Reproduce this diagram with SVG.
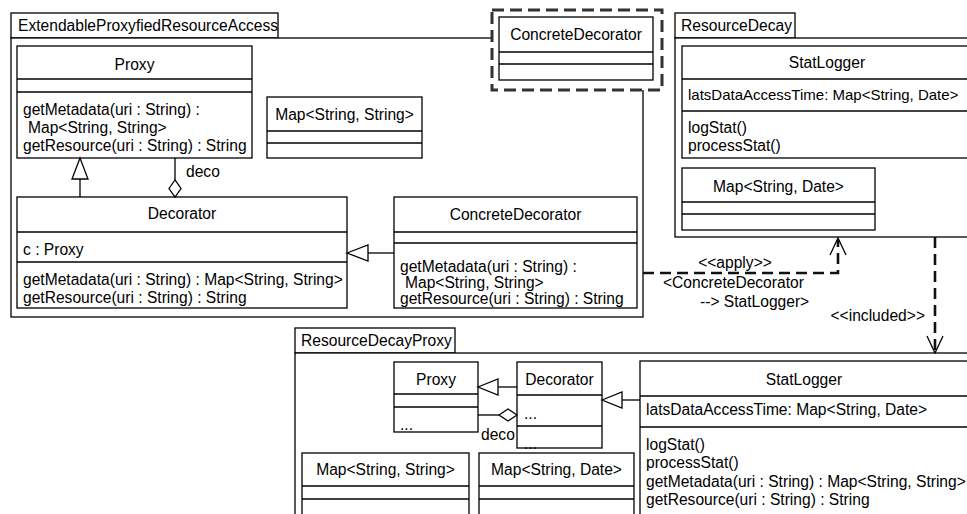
<svg xmlns="http://www.w3.org/2000/svg" width="967" height="514" viewBox="0 0 967 514">
<style>
text{font-family:"Liberation Sans",Arial,sans-serif;font-size:15.6px;fill:#000}
.c{text-anchor:middle}
.e{text-anchor:end}
.b{fill:#fff;stroke:#000;stroke-width:1.3}
.l{stroke:#000;stroke-width:1.3;fill:none}
.d{stroke:#111;stroke-width:2.6;fill:none;stroke-dasharray:11 6}
.tri{fill:#fff;stroke:#000;stroke-width:1.3}
</style>
<rect width="967" height="514" fill="#fff"/>

<g id="pkg-ExtendableProxyfiedResourceAccess">
<rect class="b" x="11" y="13" width="267" height="25"/>
<rect class="b" x="11" y="38" width="632" height="279"/>
<text x="18" y="31">ExtendableProxyfiedResourceAccess</text>
</g>

<g id="pkg-ResourceDecay">
<rect class="b" x="675" y="13" width="120" height="25"/>
<rect class="b" x="675" y="38" width="300" height="199"/>
<text x="681" y="31">ResourceDecay</text>
</g>

<g id="pkg-ResourceDecayProxy">
<rect class="b" x="295" y="328" width="160" height="25"/>
<rect class="b" x="295" y="353" width="680" height="170"/>
<text x="301" y="346">ResourceDecayProxy</text>
</g>

<g id="ext-ConcreteDecorator">
<rect x="492" y="10" width="170" height="80" fill="#fff" stroke="#333" stroke-width="3" stroke-dasharray="12 6"/>
<rect class="b" x="499" y="17" width="154" height="63"/>
<line class="l" x1="499" y1="52" x2="653" y2="52"/>
<line class="l" x1="499" y1="64" x2="653" y2="64"/>
<text class="c" x="576" y="40">ConcreteDecorator</text>
</g>

<g id="p1-Proxy">
<rect class="b" x="17" y="46" width="235" height="112"/>
<line class="l" x1="17" y1="79" x2="252" y2="79"/>
<line class="l" x1="17" y1="92" x2="252" y2="92"/>
<text class="c" x="134.5" y="70">Proxy</text>
<text x="23" y="115">getMetadata(uri : String) :</text>
<text x="28" y="133">Map&lt;String, String&gt;</text>
<text x="23" y="151">getResource(uri : String) : String</text>
</g>

<g id="p1-MapStringString">
<rect class="b" x="267" y="97" width="155" height="61"/>
<line class="l" x1="267" y1="131" x2="422" y2="131"/>
<line class="l" x1="267" y1="143" x2="422" y2="143"/>
<text class="c" x="344.5" y="120">Map&lt;String, String&gt;</text>
</g>

<g id="p1-Decorator">
<rect class="b" x="17" y="197" width="330" height="111"/>
<line class="l" x1="17" y1="232" x2="347" y2="232"/>
<line class="l" x1="17" y1="262" x2="347" y2="262"/>
<text class="c" x="182" y="219">Decorator</text>
<text x="23" y="255">c : Proxy</text>
<text x="23" y="285">getMetadata(uri : String) : Map&lt;String, String&gt;</text>
<text x="23" y="303">getResource(uri : String) : String</text>
</g>

<g id="p1-ConcreteDecorator">
<rect class="b" x="394" y="197" width="243" height="111"/>
<line class="l" x1="394" y1="232" x2="637" y2="232"/>
<line class="l" x1="394" y1="243" x2="637" y2="243"/>
<text class="c" x="515.5" y="220">ConcreteDecorator</text>
<text x="400" y="272">getMetadata(uri : String) :</text>
<text x="405" y="288">Map&lt;String, String&gt;</text>
<text x="400" y="304">getResource(uri : String) : String</text>
</g>

<g id="p2-StatLogger">
<rect class="b" x="682" y="46" width="290" height="112"/>
<line class="l" x1="682" y1="79" x2="972" y2="79"/>
<line class="l" x1="682" y1="111" x2="972" y2="111"/>
<text class="c" x="827" y="68">StatLogger</text>
<text x="688" y="100" style="font-size:15px">latsDataAccessTime: Map&lt;String, Date&gt;</text>
<text x="688" y="133">logStat()</text>
<text x="688" y="151">processStat()</text>
</g>

<g id="p2-MapStringDate">
<rect class="b" x="682" y="168" width="193" height="62"/>
<line class="l" x1="682" y1="202" x2="875" y2="202"/>
<line class="l" x1="682" y1="214" x2="875" y2="214"/>
<text class="c" x="778.5" y="192">Map&lt;String, Date&gt;</text>
</g>

<g id="p3-Proxy">
<rect class="b" x="394" y="362" width="84" height="70"/>
<line class="l" x1="394" y1="394" x2="478" y2="394"/>
<line class="l" x1="394" y1="407" x2="478" y2="407"/>
<text class="c" x="436" y="385">Proxy</text>
<text x="400" y="430">...</text>
</g>

<g id="p3-Decorator">
<rect class="b" x="517" y="362" width="85" height="86"/>
<line class="l" x1="517" y1="395" x2="602" y2="395"/>
<line class="l" x1="517" y1="426" x2="602" y2="426"/>
<text class="c" x="559.5" y="385">Decorator</text>
<text x="524" y="419">...</text>
<text x="524" y="449">...</text>
</g>

<g id="p3-StatLogger">
<rect class="b" x="640" y="361" width="335" height="162"/>
<line class="l" x1="640" y1="396" x2="975" y2="396"/>
<line class="l" x1="640" y1="427" x2="975" y2="427"/>
<text class="c" x="804" y="385">StatLogger</text>
<text x="646" y="415">latsDataAccessTime: Map&lt;String, Date&gt;</text>
<text x="646" y="450">logStat()</text>
<text x="646" y="468">processStat()</text>
<text x="646" y="487">getMetadata(uri : String) : Map&lt;String, String&gt;</text>
<text x="646" y="505">getResource(uri : String) : String</text>
</g>

<g id="p3-MapStringString">
<rect class="b" x="302" y="453" width="167" height="70"/>
<line class="l" x1="302" y1="486" x2="469" y2="486"/>
<line class="l" x1="302" y1="499" x2="469" y2="499"/>
<text class="c" x="385.5" y="475">Map&lt;String, String&gt;</text>
</g>

<g id="p3-MapStringDate">
<rect class="b" x="479" y="453" width="155" height="70"/>
<line class="l" x1="479" y1="486" x2="634" y2="486"/>
<line class="l" x1="479" y1="499" x2="634" y2="499"/>
<text class="c" x="556.5" y="475">Map&lt;String, Date&gt;</text>
</g>

<g id="connectors">
<line class="l" x1="80" y1="197" x2="80" y2="179"/>
<polygon class="tri" points="80,158 72,179 88,179"/>
<line class="l" x1="175" y1="158" x2="175" y2="180"/>
<polygon class="tri" points="175,180 169,188.5 175,197 181,188.5"/>
<text x="186" y="177">deco</text>
<line class="l" x1="394" y1="253" x2="368" y2="253"/>
<polygon class="tri" points="347,253 368,245 368,261"/>
<polyline class="d" points="643,273 838,273 838,240"/>
<polyline class="l" points="830,255 838,238 846,255" stroke-width="2"/>
<text class="c" x="735" y="268">&lt;&lt;apply&gt;&gt;</text>
<text x="663" y="288">&lt;ConcreteDecorator</text>
<text x="700" y="307">--&gt; StatLogger&gt;</text>
<line class="d" x1="935" y1="237" x2="935" y2="350"/>
<polyline class="l" points="927,336 935,353 943,336" stroke-width="2"/>
<text class="e" x="925" y="321">&lt;&lt;included&gt;&gt;</text>
<line class="l" x1="517" y1="387" x2="498" y2="387"/>
<polygon class="tri" points="478,387 498,379 498,395"/>
<line class="l" x1="478" y1="415" x2="499" y2="415"/>
<polygon class="tri" points="499,415 508,409 517,415 508,421"/>
<text x="481" y="440">deco</text>
<line class="l" x1="640" y1="400" x2="622" y2="400"/>
<polygon class="tri" points="602,400 622,392 622,408"/>
</g>
</svg>
